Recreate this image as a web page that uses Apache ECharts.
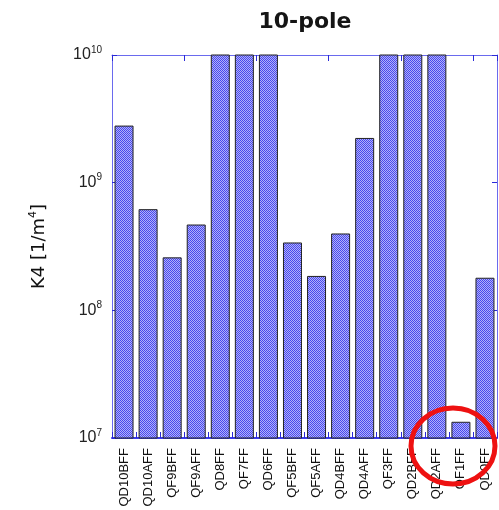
<!DOCTYPE html>
<html>
<head>
<meta charset="utf-8">
<script src="https://cdn.jsdelivr.net/npm/echarts@6/dist/echarts.min.js"></script>
<style>
  html, body { margin: 0; padding: 0; background: #fff; }
  #chart { width: 499px; height: 510px; }
</style>
</head>
<body>
<div id="chart"></div>
<script>
// Magnet names along the beamline
const magnets = ['QD10BFF', 'QD10AFF', 'QF9BFF', 'QF9AFF', 'QD8FF', 'QF7FF', 'QD6FF', 'QF5BFF',
                 'QF5AFF', 'QD4BFF', 'QD4AFF', 'QF3FF', 'QD2BFF', 'QD2AFF', 'QF1FF', 'QD0FF'];
// Decapole tolerance K4 [1/m^4]; entries above 1e10 run off the top of the axis
const k4Values = [2.8e9, 6.2e8, 2.6e8, 4.7e8, 3e10, 3e10, 3e10, 3.4e8,
                  1.86e8, 4.0e8, 2.24e9, 3e10, 3e10, 3e10, 1.34e7, 1.8e8];
// Decade exponents shown on the value axis
const yTickExponents = [7, 8, 9, 10];

const axisBlue = '#6a6aee';
const tickBlue = '#2a2ad8';

// Dithered blue fill for the bars
function checkerPattern() {
  const c = document.createElement('canvas');
  c.width = 2; c.height = 2;
  const g = c.getContext('2d');
  g.fillStyle = '#b2b2f8'; g.fillRect(0, 0, 2, 2);
  g.fillStyle = '#4848ee'; g.fillRect(0, 0, 1, 1); g.fillRect(1, 1, 1, 1);
  return c;
}

const yMin = Math.pow(10, yTickExponents[0]);
const yMax = Math.pow(10, yTickExponents[yTickExponents.length - 1]);

function decadeLabel(v) {
  const e = Math.round(Math.log10(v));
  return yTickExponents.indexOf(e) >= 0 ? '{b|10}{s|' + e + '}' : '';
}

const chart = echarts.init(document.getElementById('chart'), null, { renderer: 'canvas' });

const logAxisBase = {
  type: 'log', logBase: 10, min: yMin, max: yMax,
  axisLine: { show: true, lineStyle: { color: axisBlue, width: 1 } },
  axisTick: { show: true, inside: true, length: 5, lineStyle: { color: tickBlue } },
  splitLine: { show: false },
  minorTick: { show: false }
};

chart.setOption({
  animation: false,
  title: {
    text: '10-pole', left: 300, top: 6, textAlign: 'center',
    textStyle: { fontFamily: 'DejaVu Sans', fontSize: 22, fontWeight: 'bold', color: '#151515' }
  },
  grid: { left: 112, right: 2, top: 55, bottom: 72 },
  xAxis: [
    {
      type: 'category', data: magnets, position: 'bottom',
      axisLine: { show: true, lineStyle: { color: '#3c3ce8', width: 2 } },
      axisTick: { show: true, inside: true, length: 6, lineStyle: { color: tickBlue } },
      axisLabel: {
        rotate: 90, margin: 10, interval: 0,
        fontFamily: 'Liberation Sans', fontSize: 13, color: '#111'
      }
    },
    {
      type: 'category', data: magnets, position: 'top',
      axisLine: { show: true, lineStyle: { color: axisBlue, width: 1 } },
      axisTick: { show: true, inside: true, length: 6, lineStyle: { color: tickBlue } },
      axisLabel: { show: false }
    }
  ],
  yAxis: [
    Object.assign({}, logAxisBase, {
      position: 'left',
      name: '{n|K4 [1/m}{s|4}{n|]}',
      nameLocation: 'middle', nameGap: 62, nameRotate: 90,
      nameTextStyle: {
        rich: {
          n: { fontFamily: 'DejaVu Sans', fontSize: 18, color: '#111', lineHeight: 22 },
          s: { fontFamily: 'DejaVu Sans', fontSize: 11, color: '#111', verticalAlign: 'top', lineHeight: 14 }
        }
      },
      axisLabel: {
        margin: 10, formatter: decadeLabel,
        rich: {
          b: { fontFamily: 'Liberation Sans', fontSize: 16, color: '#222', lineHeight: 20 },
          s: { fontFamily: 'Liberation Sans', fontSize: 10, color: '#222', verticalAlign: 'top', lineHeight: 12 }
        }
      }
    }),
    Object.assign({}, logAxisBase, {
      position: 'right',
      axisLabel: { show: false }
    })
  ],
  series: [{
    type: 'bar', xAxisIndex: 0, yAxisIndex: 0,
    data: k4Values, barWidth: 19, clip: true,
    itemStyle: {
      color: { image: checkerPattern(), repeat: 'repeat' },
      borderColor: '#222', borderWidth: 1
    }
  }],
  graphic: [{
    type: 'ellipse', z: 100,
    shape: { cx: 453, cy: 446, rx: 42, ry: 38 },
    style: { fill: 'none', stroke: '#ee1111', lineWidth: 5 }
  }]
});
</script>
</body>
</html>
